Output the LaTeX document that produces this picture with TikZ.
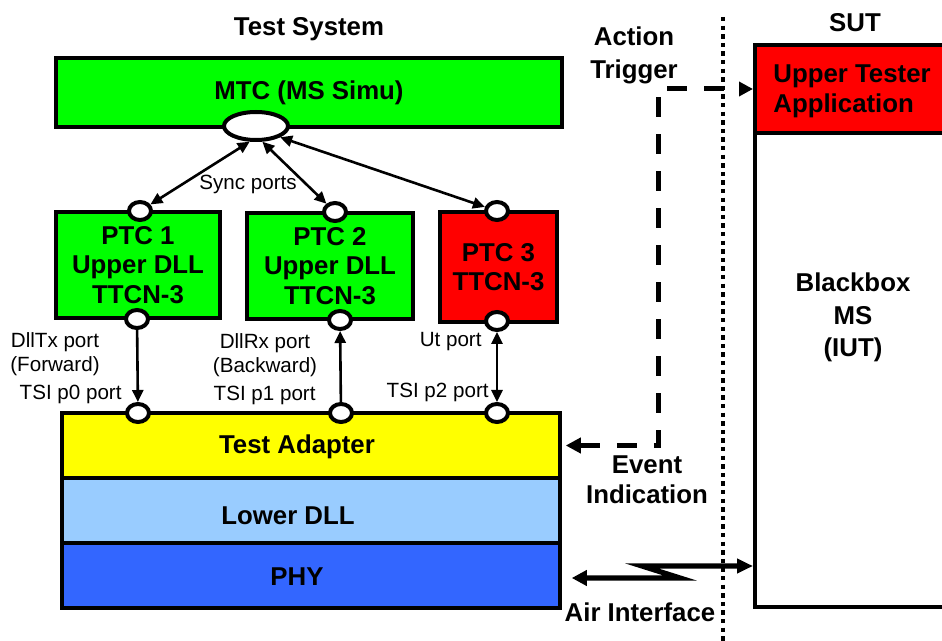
\documentclass[tikz,border=0pt]{standalone}
\usepackage{fontspec}
\setmainfont{Liberation Sans}
\usetikzlibrary{arrows.meta,shapes.geometric}

\definecolor{ttcngreen}{RGB}{0,255,0}
\definecolor{utred}{RGB}{255,0,0}
\definecolor{tayellow}{RGB}{255,255,0}
\definecolor{dllblue}{RGB}{153,204,255}
\definecolor{phyblue}{RGB}{51,102,255}

\newcommand{\bigfnt}{\fontsize{12.9}{14.75}\selectfont\bfseries}
\newcommand{\smallfnt}{\fontsize{10.3}{12}\selectfont}

\begin{document}
\begin{tikzpicture}[x=0.5pt, y=-0.5pt,
  blk/.style={draw, line width=1.6pt, inner sep=0pt, align=center, font=\bigfnt},
  lbl/.style={inner sep=0pt, align=center, font=\bigfnt},
  note/.style={inner sep=0pt, align=center, font=\smallfnt},
  portdot/.style={draw, ellipse, fill=white, line width=2pt, inner sep=0pt, minimum width=11pt, minimum height=9pt},
  sync/.style={line width=1.3pt, {Triangle[length=6pt,width=5.5pt]}-{Triangle[length=6pt,width=5.5pt]}},
  link/.style={line width=1.3pt},
  trig/.style={line width=2.5pt, dash pattern=on 10pt off 8.5pt, {Triangle[length=7.5pt,width=7.5pt]}-{Triangle[length=7pt,width=7pt]}},
  airlink/.style={line width=2.6pt, {Triangle[length=7.5pt,width=7.5pt]}-{Triangle[length=8pt,width=7pt]}}]
\useasboundingbox (0,0) rectangle (942,641);

% test system side
\node[lbl] (title) at (309,29) {Test System};
\node[blk, fill=ttcngreen, line width=2pt, minimum width=253pt, minimum height=34.5pt] (mtc) at (309,92.5) {MTC (MS Simu)};
\node[draw, ellipse, fill=white, line width=2pt, inner sep=0pt, minimum width=32pt, minimum height=14pt] (ell) at (256,126) {};

\node[blk, fill=ttcngreen, minimum width=82pt, minimum height=53pt] (ptc1) at (138,265) {PTC 1\\Upper DLL\\TTCN-3};
\node[blk, fill=ttcngreen, minimum width=83pt, minimum height=53pt] (ptc2) at (330,266) {PTC 2\\Upper DLL\\TTCN-3};
\node[blk, fill=utred, line width=2.2pt, minimum width=58.5pt, minimum height=55pt] (ptc3) at (498.5,267) {PTC 3\\TTCN-3};

\node[blk, fill=tayellow, line width=1.75pt, minimum width=249pt, minimum height=32.5pt] (ta) at (311,445.5) {};
\node[blk, fill=dllblue, line width=1.75pt, minimum width=249pt, minimum height=32.5pt] (ldll) at (311,510.5) {};
\node[blk, fill=phyblue, line width=1.75pt, minimum width=249pt, minimum height=32.5pt] (phy) at (311,575.5) {};
\node[lbl] (talbl) at (297,447) {Test Adapter};
\node[lbl] (ldlllbl) at (288,516) {Lower DLL};
\node[lbl] (phylbl) at (297,577) {PHY};

% ports
\node[portdot] (p1t) at (140,211) {};
\node[portdot] (p1b) at (137,319) {};
\node[portdot] (p2t) at (335,212) {};
\node[portdot] (p2b) at (340,320) {};
\node[portdot] (p3t) at (497,211) {};
\node[portdot] (p3b) at (497,321) {};
\node[portdot] (tsi0) at (138,413) {};
\node[portdot] (tsi1) at (341,413) {};
\node[portdot] (tsi2) at (497,413) {};

\node[note] (syncl) at (248,184) {Sync ports};
\node[note] (txl) at (55,354) {DllTx port\\(Forward)};
\node[note, anchor=east] (tsi0l) at (122,394) {TSI p0 port};
\node[note] (rxl) at (265,355) {DllRx port\\(Backward)};
\node[note, anchor=east] (tsi1l) at (316,395) {TSI p1 port};
\node[note, anchor=east] (utpl) at (482,342) {Ut port};
\node[note, anchor=east] (tsi2l) at (489,392) {TSI p2 port};

\draw[sync] (ell.248) -- (p1t);
\draw[sync] (ell.292) -- (p2t);
\draw[sync] (ell.335) -- (p3t);
\draw[link, -{Triangle[length=6pt,width=5.5pt]}] (p1b) -- (tsi0);
\draw[link, -{Triangle[length=6pt,width=5.5pt]}] (tsi1) -- (p2b);
\draw[link, {Triangle[length=6pt,width=5.5pt]}-{Triangle[length=6pt,width=5.5pt]}] (p3b) -- (tsi2);

% SUT side
\node[lbl] (sutl) at (855,23) {SUT};
\node[blk, fill=utred, line width=2pt, minimum width=102.5pt, minimum height=44pt] (ut) at (857.5,89) {};
\node[lbl, align=left, anchor=west] (utl) at (773,91.5) {Upper Tester\\Application};
\node[blk, fill=white, line width=2pt, minimum width=102.5pt, minimum height=237pt] (iut) at (857.5,370) {};
\node[lbl] (iutl) at (853,317.5) {Blackbox\\[1.5pt]MS\\[1.5pt](IUT)};

% border between test system and SUT
\coordinate (dtop) at (723,17);
\coordinate (dbot) at (723,641);
\draw[line width=2.2pt, dash pattern=on 2.2pt off 2.1pt] (dtop) -- (dbot);

\node[lbl] (actl) at (634,55.5) {Action\\[1.75pt]Trigger};
\node[lbl] (evtl) at (647,480) {Event\\Indication};
\node[lbl] (airl) at (640,612) {Air Interface};

\coordinate (bend) at (658,89);
\draw[trig] ([xshift=2pt]ta.east) -| (bend) -- (ut.west);

\coordinate (zlo) at (680,578);
\coordinate (zhi) at (642,566);
\draw[airlink, line join=miter] ([shift={(10,2.5)}]phy.east) -- (zlo) -- (zhi) -- (iut.west |- zhi);
\end{tikzpicture}
\end{document}
